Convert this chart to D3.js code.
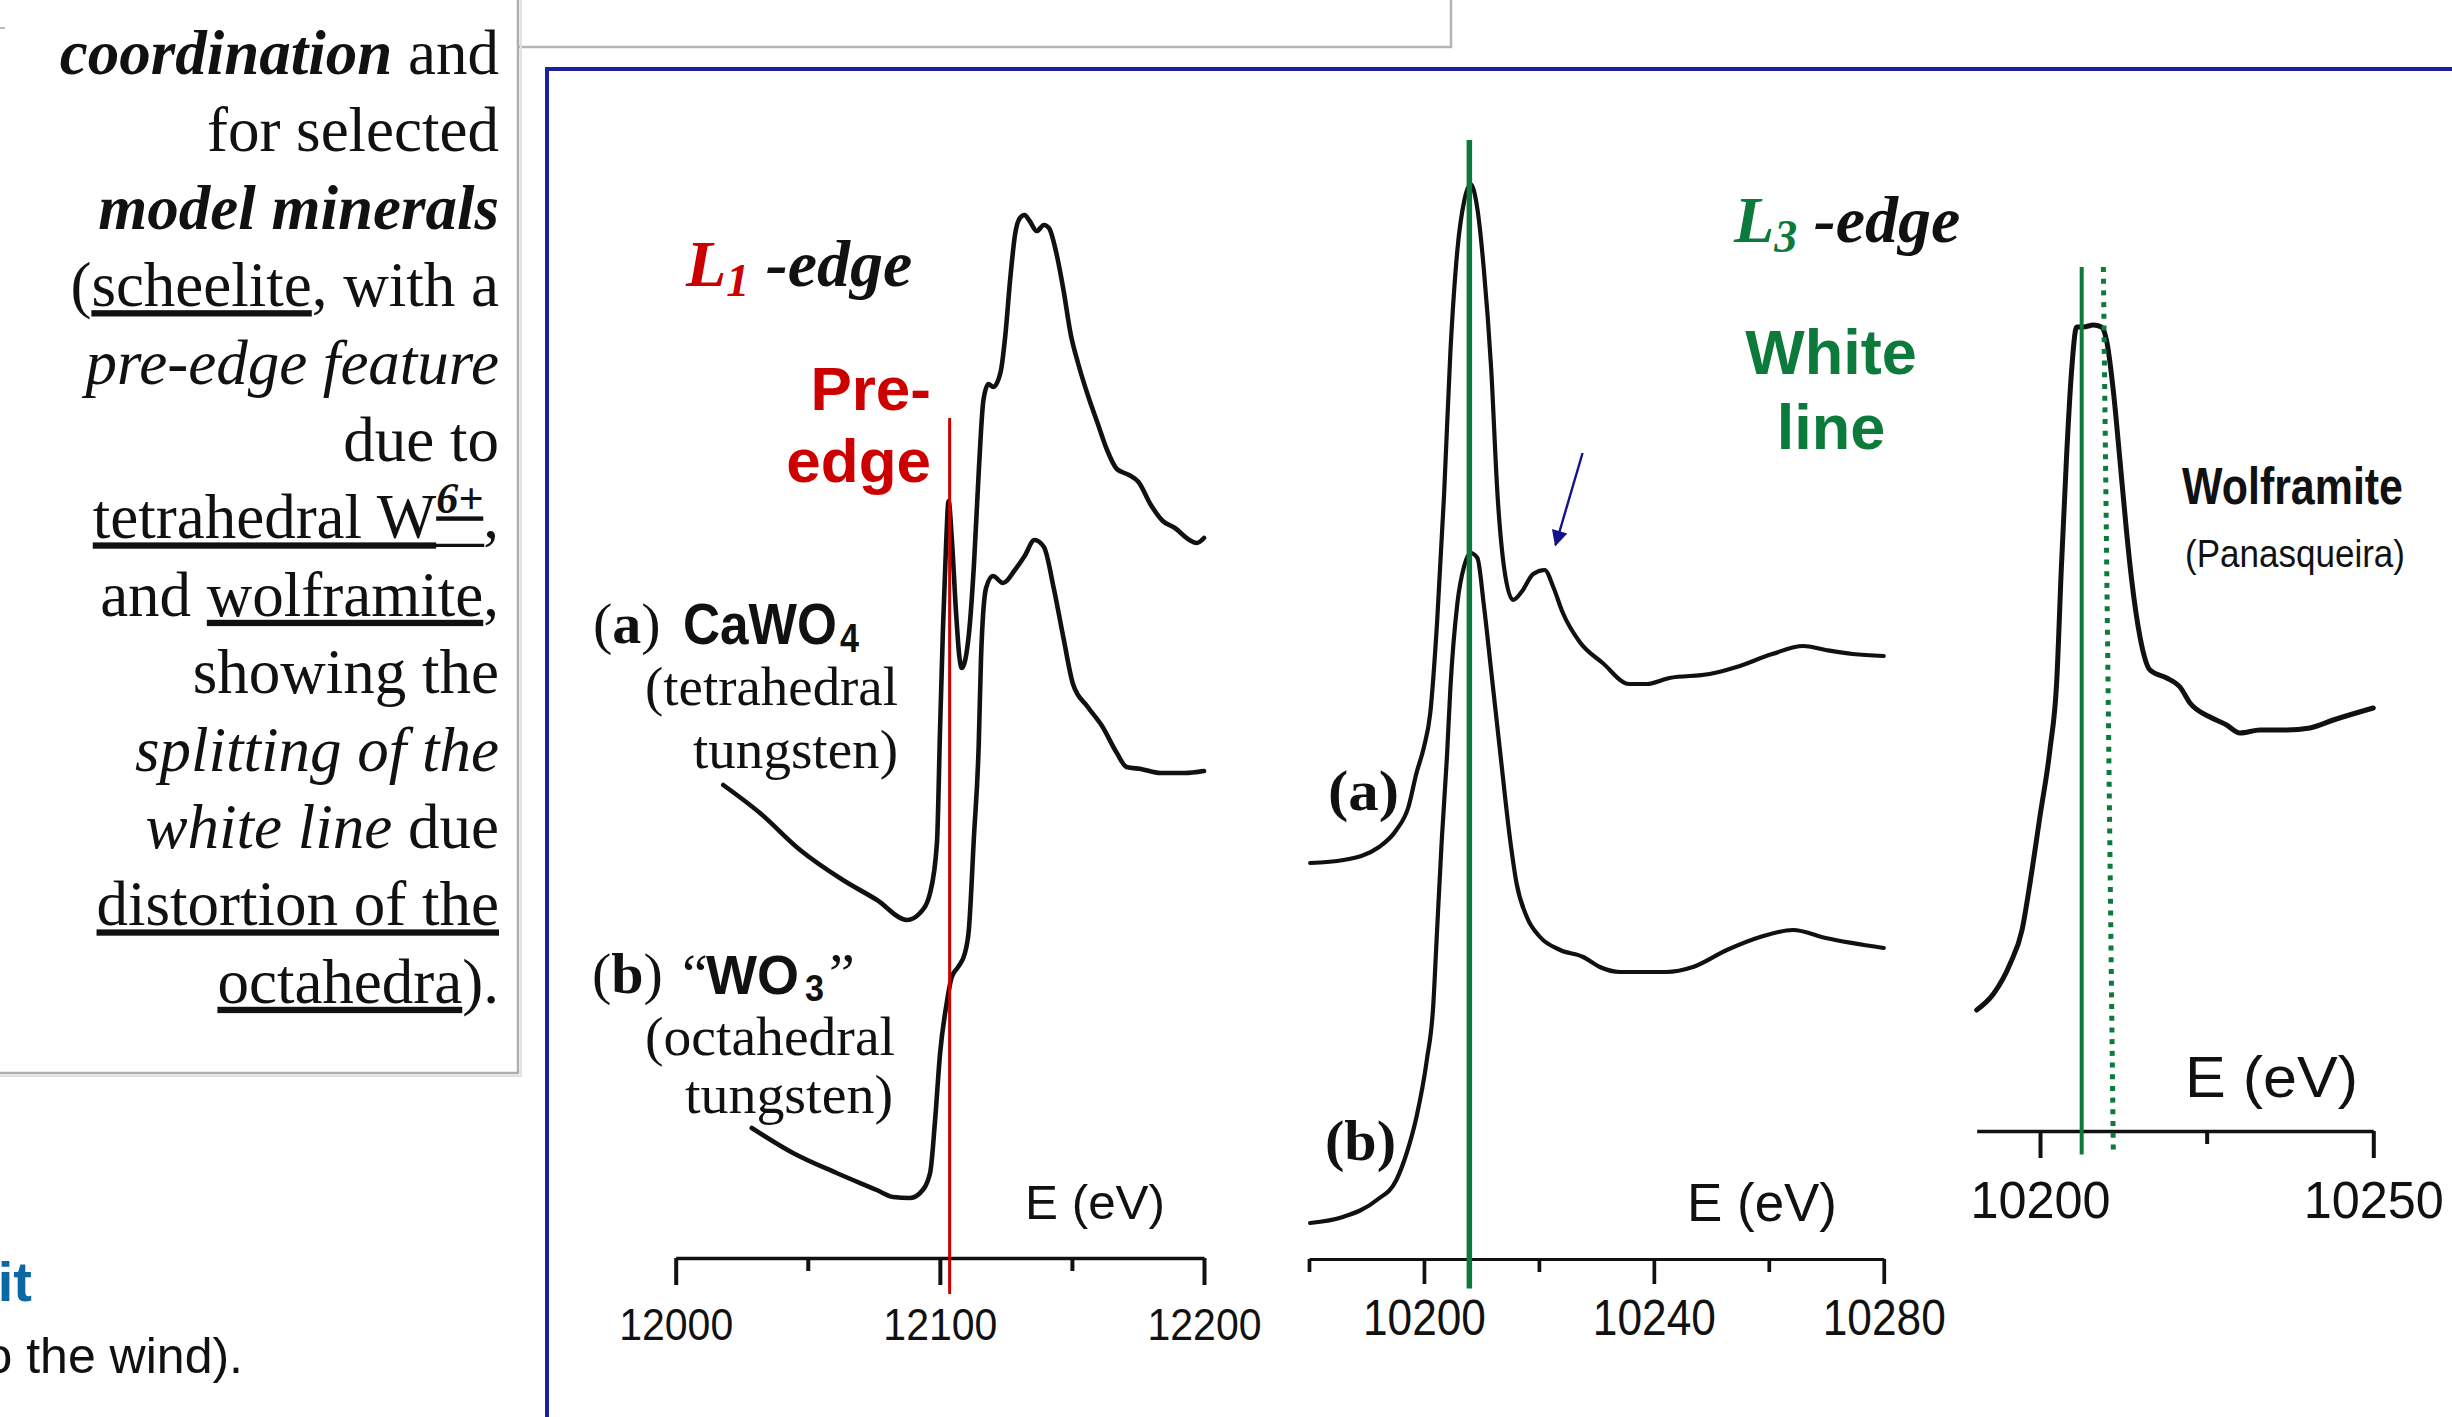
<!DOCTYPE html>
<html lang="en">
<head>
  <meta charset="UTF-8">
  <title>W L1 / L3 edge XANES</title>
  <script src="https://d3js.org/d3.v7.min.js"></script>
  <style>
    body, html { margin: 0; padding: 0; width: 2452px; height: 1417px; overflow: hidden; background: #fff; }
    svg { display: block; }
  </style>
</head>
<body>
  <svg id="slide" width="2452" height="1417"></svg>

  <script>
    // ---- values: [energy (eV), normalised absorption, offset] ----
    const l1Ticks = [12000, 12100, 12200];
    const l1MinorTicks = [12050, 12150];
    const l1CaWO4 = [
      [12018.0, 4.73], [12031.9, 4.45], [12047.1, 4.08], [12063.3, 3.78], [12076.2, 3.58],
      [12087.6, 3.38], [12092.5, 3.45], [12096.3, 3.65], [12098.9, 4.15], [12100.1, 5.31],
      [12101.2, 6.31], [12102.4, 7.16], [12103.3, 7.57], [12104.6, 7.16], [12106.1, 6.47],
      [12107.4, 6.01], [12108.3, 5.90], [12111.0, 6.24], [12112.9, 6.93], [12114.7, 7.85],
      [12116.5, 8.58], [12118.4, 8.74], [12120.2, 8.71], [12123.0, 8.86], [12124.8, 9.23],
      [12126.6, 9.78], [12128.5, 10.24], [12130.3, 10.40], [12132.1, 10.43], [12134.0, 10.37],
      [12136.7, 10.27], [12139.4, 10.33], [12141.3, 10.30], [12144.1, 10.05], [12146.8, 9.68],
      [12149.6, 9.23], [12152.3, 8.95], [12156.0, 8.63], [12159.7, 8.35], [12163.3, 8.08],
      [12167.0, 7.89], [12171.6, 7.83], [12175.2, 7.76], [12179.9, 7.53], [12184.4, 7.37],
      [12189.0, 7.30], [12194.5, 7.18], [12197.3, 7.15], [12200.0, 7.20]
    ];
    const l1WO3 = [
      [12028.8, 1.30], [12044.4, 1.05], [12060.9, 0.85], [12076.1, 0.68], [12082.3, 0.61],
      [12088.7, 0.60], [12092.5, 0.65], [12096.3, 0.85], [12098.2, 1.38], [12100.1, 2.05],
      [12102.6, 2.55], [12104.5, 2.81], [12106.9, 2.91], [12109.5, 3.05], [12111.0, 3.29],
      [12112.9, 4.21], [12114.7, 5.12], [12115.6, 6.01], [12117.5, 6.70], [12120.1, 6.82],
      [12123.9, 6.75], [12128.4, 6.88], [12132.1, 7.02], [12135.8, 7.18], [12139.4, 7.11],
      [12143.1, 6.70], [12146.8, 6.20], [12150.4, 5.74], [12156.0, 5.51], [12161.4, 5.32],
      [12167.0, 5.05], [12170.7, 4.91], [12176.1, 4.89], [12183.5, 4.85], [12192.7, 4.85],
      [12200.0, 4.87]
    ];
    const preEdgeEnergy = 12103.7;
    const preEdgeSpan = [-0.36, 8.40];

    const l3Ticks = [10200, 10240, 10280];
    const l3MinorTicks = [10180, 10220, 10260];
    const l3CaWO4 = [
      [10180.2, 3.96], [10186.0, 3.99], [10192.2, 4.12], [10195.2, 4.29], [10197.3, 4.52],
      [10198.7, 4.86], [10200.0, 5.12], [10201.1, 5.46], [10202.3, 6.38], [10203.5, 7.64],
      [10204.6, 9.07], [10205.8, 10.08], [10207.0, 10.58], [10208.1, 10.75], [10209.3, 10.50],
      [10210.4, 9.91], [10211.7, 8.90], [10212.8, 7.64], [10214.0, 6.89], [10215.5, 6.59],
      [10217.1, 6.68], [10219.0, 6.85], [10221.0, 6.89], [10222.5, 6.72], [10224.1, 6.47],
      [10227.1, 6.17], [10231.1, 5.96], [10235.7, 5.75], [10238.8, 5.75], [10242.7, 5.81],
      [10249.7, 5.85], [10254.4, 5.92], [10260.6, 6.05], [10266.0, 6.13], [10269.9, 6.09],
      [10274.6, 6.05], [10280.0, 6.03]
    ];
    const l3WO3 = [
      [10180.2, 0.36], [10185.9, 0.42], [10191.8, 0.59], [10195.2, 0.79], [10197.0, 1.06],
      [10198.7, 1.42], [10200.5, 1.99], [10201.6, 2.52], [10202.2, 3.19], [10203.1, 4.19],
      [10204.0, 5.02], [10204.6, 5.71], [10205.8, 6.55], [10207.0, 6.93], [10208.1, 7.06],
      [10209.3, 7.01], [10210.4, 6.55], [10211.7, 5.88], [10213.2, 5.10], [10215.0, 4.19],
      [10216.1, 3.76], [10217.9, 3.42], [10220.2, 3.22], [10223.7, 3.09], [10227.7, 3.02],
      [10230.6, 2.92], [10234.1, 2.87], [10242.2, 2.87], [10246.8, 2.92], [10252.7, 3.09],
      [10258.5, 3.22], [10264.2, 3.29], [10269.9, 3.21], [10280.0, 3.11]
    ];
    const whiteLineEnergy = 10207.9;
    const whiteLineSpan = [-0.295, 11.19];
    const shoulderArrow = [[10227.6, 8.06], [10222.9, 7.14]];

    const wolfTicks = [10200, 10250];
    const wolfMinorTicks = [10225];
    const wolframite = [
      [10190.5, 1.21], [10193.0, 1.37], [10195.5, 1.67], [10197.3, 2.01], [10198.5, 2.48],
      [10200.0, 3.15], [10201.5, 3.82], [10202.5, 4.49], [10203.2, 5.63], [10204.0, 6.77],
      [10204.7, 7.57], [10205.5, 8.04], [10206.5, 8.04], [10208.0, 8.06], [10209.2, 8.04],
      [10210.0, 7.90], [10211.0, 7.40], [10212.0, 6.70], [10213.0, 5.98], [10213.75, 5.51],
      [10215.0, 4.94], [10216.5, 4.61], [10219.0, 4.53], [10221.0, 4.44], [10222.5, 4.28],
      [10225.5, 4.14], [10228.0, 4.06], [10230.0, 3.98], [10233.0, 4.01], [10237.0, 4.01],
      [10240.5, 4.03], [10244.0, 4.11], [10250.0, 4.23]
    ];
    const wolfLineEnergy = 10206.25;
    const wolfSplitEnergy = [10209.5, 10211.0];   // dotted line leans slightly: top, bottom
    const wolfLineSpan = [-0.235, 8.64];

    // side note text, line by line: [text, style]
    const noteLines = [
      [["coordination", "bi"], [" and", ""]],
      [["for selected", ""]],
      [["model minerals", "bi"]],
      [["(", ""], ["scheelite", "u"], [", with a", ""]],
      [["pre-edge feature", "i"]],
      [["due to", ""]],
      [["tetrahedral W", "u"], ["6+", "sup"], [",", ""]],
      [["and ", ""], ["wolframite", "u"], [",", ""]],
      [["showing the", ""]],
      [["splitting of the", "i"]],
      [["white line", "i"], [" due", ""]],
      [["distortion of the", "u"]],
      [["octahedra", "u"], [").", ""]]
    ];

    const SERIF = '"Liberation Serif", "Times New Roman", serif';
    const SANS = '"Liberation Sans", Arial, sans-serif';
    const RED = '#cc0000';
    const GREEN = '#0b7a3a';
    const INK = '#111';

    const svg = d3.select('#slide');

    // ---- slide furniture ----
    svg.append('rect').attr('x', -10).attr('y', -10).attr('width', 1461).attr('height', 57)
      .attr('fill', '#fff').attr('stroke', '#b4b4b4').attr('stroke-width', 2.5);
    svg.append('rect').attr('x', -10).attr('y', -10).attr('width', 528).attr('height', 1083)
      .attr('fill', '#fff').attr('stroke', '#adadad').attr('stroke-width', 2.5);
    svg.append('path').attr('d', 'M521,0V1076H0').attr('fill', 'none')
      .attr('stroke', '#e2e2e2').attr('stroke-width', 2);
    svg.append('line').attr('x1', 0).attr('x2', 5).attr('y1', 28).attr('y2', 28)
      .attr('stroke', '#bbb').attr('stroke-width', 2);
    svg.append('path').attr('d', 'M547,1420V69H2460').attr('fill', 'none')
      .attr('stroke', '#1f1fa3').attr('stroke-width', 4);

    // side note
    const note = svg.append('g').style('font-family', SERIF).style('font-size', '63px').attr('fill', INK);
    noteLines.forEach((segs, i) => {
      const yb = 74 + i * 77.4;
      const t = note.append('text').attr('x', 499).attr('y', yb).attr('text-anchor', 'end');
      let lift = 0, supAt = -1, pos = 0;
      segs.forEach(([s, style]) => {
        const sp = t.append('tspan').text(s);
        if (lift) { sp.attr('dy', lift); lift = 0; }
        if (style.includes('b')) sp.style('font-weight', 'bold');
        if (style.includes('i')) sp.style('font-style', 'italic');
        if (style.includes('u')) sp.style('text-decoration', 'underline');
        if (style === 'sup') {
          sp.attr('dy', -25).style('font-size', '44px').style('font-weight', 'bold')
            .style('font-style', 'italic');
          lift = 25;
          supAt = pos;
        }
        pos += s.length;
      });
      if (supAt >= 0) {
        // keep the underline at the text baseline below the raised "6+"
        const n = t.node();
        const xs = n.getStartPositionOfChar(supAt).x;
        const xe = n.getEndPositionOfChar(supAt + 1).x;
        note.append('line').attr('x1', xs - 1).attr('x2', xe + 1).attr('y1', yb + 7).attr('y2', yb + 7)
          .attr('stroke', INK).attr('stroke-width', 3.1);
      }
    });

    svg.append('text').attr('x', 32).attr('y', 1301).attr('text-anchor', 'end')
      .style('font-family', SANS).style('font-size', '56px').style('font-weight', 'bold')
      .attr('fill', '#0b68a3').text('it');
    svg.append('text').attr('x', 243).attr('y', 1373).attr('text-anchor', 'end')
      .style('font-family', SANS).style('font-size', '50px').attr('fill', INK).text('o the wind).');

    // ---- panels ----
    const line = (x, y) => d3.line().x(d => x(d[0])).y(d => y(d[1])).curve(d3.curveMonotoneX);

    function makePanel(cfg) {
      const x = d3.scaleLinear().domain(cfg.domain).range(cfg.xRange);
      const y = d3.scaleLinear().domain([0, 10]).range([cfg.axisY, cfg.axisY - 1000]);
      const g = svg.append('g');

      const major = d3.axisBottom(x).tickValues(cfg.ticks).tickSize(cfg.tickLen)
        .tickSizeOuter(0).tickFormat(d3.format('d'));
      const gx = g.append('g').attr('transform', `translate(0,${cfg.axisY})`).call(major);
      gx.select('.domain').attr('stroke', INK).attr('stroke-width', cfg.axisWidth);
      gx.selectAll('.tick line').attr('stroke', INK).attr('stroke-width', cfg.axisWidth + 0.5);
      gx.selectAll('.tick text').attr('y', cfg.labelDy).attr('dy', null).attr('fill', INK)
        .style('font-family', SANS).style('font-size', cfg.labelSize + 'px')
        .attr('textLength', cfg.labelLen).attr('lengthAdjust', 'spacingAndGlyphs');

      const minor = d3.axisBottom(x).tickValues(cfg.minor).tickSize(cfg.minorLen).tickFormat('');
      const gm = g.append('g').attr('transform', `translate(0,${cfg.axisY})`).call(minor);
      gm.select('.domain').remove();
      gm.selectAll('.tick line').attr('stroke', INK).attr('stroke-width', cfg.axisWidth + 0.5);

      cfg.series.forEach(s => {
        g.append('path').datum(s).attr('d', line(x, y)).attr('fill', 'none')
          .attr('stroke', INK).attr('stroke-width', cfg.curveWidth)
          .attr('stroke-linejoin', 'round').attr('stroke-linecap', 'round');
      });
      return { x, y, g };
    }

    // L1 edge
    const p1 = makePanel({
      domain: [12000, 12200], xRange: [675.7, 1204], axisY: 1258,
      ticks: l1Ticks, minor: l1MinorTicks, tickLen: 27, minorLen: 13,
      labelDy: 82, labelSize: 45, labelLen: 114, axisWidth: 3.5, curveWidth: 4.6,
      series: [l1CaWO4, l1WO3]
    });
    p1.g.append('line')
      .attr('x1', p1.x(preEdgeEnergy)).attr('x2', p1.x(preEdgeEnergy))
      .attr('y1', p1.y(preEdgeSpan[0])).attr('y2', p1.y(preEdgeSpan[1]))
      .attr('stroke', RED).attr('stroke-width', 3);

    const t1 = p1.g.append('text').attr('x', 686).attr('y', 286)
      .style('font-family', SERIF).style('font-weight', 'bold').style('font-style', 'italic');
    t1.append('tspan').text('L').attr('fill', RED).style('font-size', '66px');
    t1.append('tspan').text('1').attr('fill', RED).attr('dy', 10).style('font-size', '46px');
    t1.append('tspan').text(' -edge').attr('fill', INK).attr('dy', -10).style('font-size', '66px');

    p1.g.selectAll('text.pre').data(['Pre-', 'edge']).join('text').attr('class', 'pre')
      .attr('x', 931).attr('y', (d, i) => 410 + i * 72).attr('text-anchor', 'end')
      .style('font-family', SANS).style('font-weight', 'bold').style('font-size', '62px')
      .attr('fill', RED).text(d => d);

    function sampleLabel(g, letter, x0, yb, name, nameLen, sub, subDy, quoted) {
      const t = g.append('text').attr('x', x0).attr('y', yb)
        .style('font-family', SERIF).style('font-size', '58px').attr('fill', INK);
      t.append('tspan').text('(');
      t.append('tspan').text(letter).style('font-weight', 'bold');
      t.append('tspan').text(')');
      let nx = x0 + 90;
      if (quoted) {
        g.append('text').attr('x', nx).attr('y', yb).style('font-family', SERIF)
          .style('font-size', '58px').attr('fill', INK).text('\u201C');
        nx += 24;
      }
      // chemical formula and its subscript in one text element
      const f = g.append('text').attr('x', nx).attr('y', yb + 1).style('font-family', SANS)
        .style('font-weight', 'bold').attr('fill', INK);
      f.append('tspan').style('font-size', quoted ? '56px' : '58px')
        .attr('textLength', nameLen).attr('lengthAdjust', 'spacingAndGlyphs').text(name);
      f.append('tspan').attr('dx', quoted ? 6 : 3).attr('dy', subDy - 1)
        .style('font-size', quoted ? '36px' : '40px')
        .attr('textLength', 19).attr('lengthAdjust', 'spacingAndGlyphs').text(sub);
      if (quoted) {
        g.append('text').attr('x', nx + nameLen + 30).attr('y', yb).style('font-family', SERIF)
          .style('font-size', '58px').attr('fill', INK).text('\u201D');
      }
    }
    sampleLabel(p1.g, 'a', 593, 643, 'CaWO', 154, '4', 9, false);
    sampleLabel(p1.g, 'b', 592, 993, 'WO', 93, '3', 8, true);

    const desc = [
      ['(tetrahedral', 898, 705, 253], ['tungsten)', 898, 768, 205],
      ['(octahedral', 895, 1055, 250], ['tungsten)', 893, 1113, 208]
    ];
    desc.forEach(([s, xe, yb, len]) => {
      p1.g.append('text').attr('x', xe).attr('y', yb).attr('text-anchor', 'end')
        .style('font-family', SERIF).style('font-size', '54px').attr('fill', INK)
        .attr('textLength', len).attr('lengthAdjust', 'spacingAndGlyphs').text(s);
    });
    p1.g.append('text').attr('x', 1025).attr('y', 1219).style('font-family', SANS)
      .style('font-size', '48px').attr('fill', INK)
      .attr('textLength', 140).attr('lengthAdjust', 'spacingAndGlyphs').text('E (eV)');

    // L3 edge
    const p3 = makePanel({
      domain: [10180, 10280], xRange: [1309, 1883.75], axisY: 1259,
      ticks: l3Ticks, minor: l3MinorTicks, tickLen: 25, minorLen: 13,
      labelDy: 76, labelSize: 50, labelLen: 123, axisWidth: 3.2, curveWidth: 4.2,
      series: [l3CaWO4, l3WO3]
    });
    p3.g.append('line')
      .attr('x1', p3.x(whiteLineEnergy)).attr('x2', p3.x(whiteLineEnergy))
      .attr('y1', p3.y(whiteLineSpan[0])).attr('y2', p3.y(whiteLineSpan[1]))
      .attr('stroke', GREEN).attr('stroke-width', 5.5);

    svg.append('defs').append('marker').attr('id', 'head').attr('viewBox', '0 0 10 10')
      .attr('refX', 9).attr('refY', 5).attr('markerWidth', 22).attr('markerHeight', 16)
      .attr('markerUnits', 'userSpaceOnUse').attr('orient', 'auto')
      .append('path').attr('d', 'M0,0L10,5L0,10Z').attr('fill', '#12128f');
    p3.g.append('line')
      .attr('x1', p3.x(shoulderArrow[0][0])).attr('y1', p3.y(shoulderArrow[0][1]))
      .attr('x2', p3.x(shoulderArrow[1][0])).attr('y2', p3.y(shoulderArrow[1][1]))
      .attr('stroke', '#12128f').attr('stroke-width', 2.4)
      .attr('marker-end', 'url(#head)');

    const t3 = p3.g.append('text').attr('x', 1734).attr('y', 242)
      .style('font-family', SERIF).style('font-weight', 'bold').style('font-style', 'italic');
    t3.append('tspan').text('L').attr('fill', GREEN).style('font-size', '66px');
    t3.append('tspan').text('3').attr('fill', GREEN).attr('dy', 10).style('font-size', '46px');
    t3.append('tspan').text(' -edge').attr('fill', INK).attr('dy', -10).style('font-size', '66px');

    p3.g.selectAll('text.wl').data(['White', 'line']).join('text').attr('class', 'wl')
      .attr('x', 1831).attr('y', (d, i) => 374 + i * 75).attr('text-anchor', 'middle')
      .style('font-family', SANS).style('font-weight', 'bold').style('font-size', '63px')
      .attr('fill', GREEN).text(d => d);

    [['a', 1328, 810], ['b', 1325, 1160]].forEach(([l, x0, yb]) => {
      p3.g.append('text').attr('x', x0).attr('y', yb).style('font-family', SERIF)
        .style('font-weight', 'bold').style('font-size', '58px').attr('fill', INK)
        .attr('textLength', 71).attr('lengthAdjust', 'spacingAndGlyphs').text(`(${l})`);
    });
    p3.g.append('text').attr('x', 1687).attr('y', 1221).style('font-family', SANS)
      .style('font-size', '54px').attr('fill', INK)
      .attr('textLength', 150).attr('lengthAdjust', 'spacingAndGlyphs').text('E (eV)');

    // wolframite L3 edge
    const pw = makePanel({
      domain: [10190.5, 10250], xRange: [1976.7, 2373.3], axisY: 1131,
      ticks: wolfTicks, minor: wolfMinorTicks, tickLen: 27, minorLen: 13,
      labelDy: 87, labelSize: 51, labelLen: 140, axisWidth: 3.5, curveWidth: 5,
      series: [wolframite]
    });
    pw.g.append('line')
      .attr('x1', pw.x(wolfLineEnergy)).attr('x2', pw.x(wolfLineEnergy))
      .attr('y1', pw.y(wolfLineSpan[0])).attr('y2', pw.y(wolfLineSpan[1]))
      .attr('stroke', GREEN).attr('stroke-width', 4);
    pw.g.append('line')
      .attr('x1', pw.x(wolfSplitEnergy[0])).attr('y1', pw.y(wolfLineSpan[1]))
      .attr('x2', pw.x(wolfSplitEnergy[1])).attr('y2', pw.y(wolfLineSpan[0]))
      .attr('stroke', GREEN).attr('stroke-width', 5).attr('stroke-dasharray', '5 6.7');

    pw.g.append('text').attr('x', 2182).attr('y', 504).style('font-family', SANS)
      .style('font-weight', 'bold').style('font-size', '52px').attr('fill', INK)
      .attr('textLength', 221).attr('lengthAdjust', 'spacingAndGlyphs').text('Wolframite');
    pw.g.append('text').attr('x', 2185).attr('y', 567).style('font-family', SANS)
      .style('font-size', '38px').attr('fill', INK)
      .attr('textLength', 220).attr('lengthAdjust', 'spacingAndGlyphs').text('(Panasqueira)');
    pw.g.append('text').attr('x', 2185).attr('y', 1097).style('font-family', SANS)
      .style('font-size', '58px').attr('fill', INK)
      .attr('textLength', 173).attr('lengthAdjust', 'spacingAndGlyphs').text('E (eV)');
  </script>
</body>
</html>
